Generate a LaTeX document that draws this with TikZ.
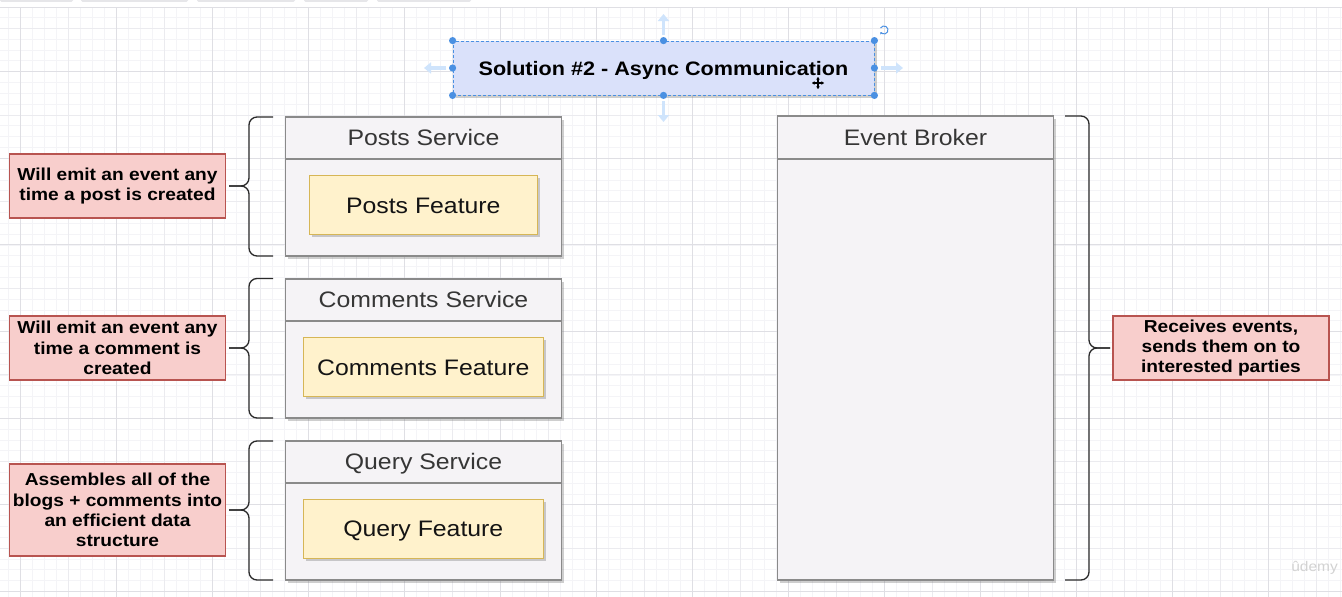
\documentclass[tikz,border=0pt]{standalone}
\usepackage{fontspec}
\setmainfont{Liberation Sans}[FakeStretch=1.108]
\usetikzlibrary{arrows.meta,shadows}
\definecolor{svcfill}{HTML}{F5F3F6}
\definecolor{svcline}{HTML}{8A8A8A}
\definecolor{hdrgray}{HTML}{363636}
\definecolor{featfill}{HTML}{FFF2CC}
\definecolor{featline}{HTML}{D6B656}
\definecolor{notefill}{HTML}{F8CECC}
\definecolor{noteline}{HTML}{B85450}
\definecolor{titlefill}{HTML}{DAE1FA}
\definecolor{selblue}{HTML}{4A90E2}
\definecolor{hintblue}{HTML}{CFE4FC}
\definecolor{gridminor}{HTML}{F4F4F7}
\definecolor{gridmid}{HTML}{EBEBEF}
\definecolor{gridmajor}{HTML}{DFDFE4}
\definecolor{braceblack}{HTML}{2A2A2A}
\definecolor{tabgray}{HTML}{E6E6E9}
\newcommand\drawBraceL[3]{% top, bottom, tip
  \draw[bracestyle] (273,#1) -- (249,#1) -- (249,#3) -- (229,#3);
  \draw[bracestyle] (229,#3) -- (249,#3) -- (249,#2) -- (273,#2);}
\begin{document}
\begin{tikzpicture}[x=1pt,y=-1pt,
  shad/.style={drop shadow={shadow xshift=2.5pt,shadow yshift=-2.5pt,fill=black!55,opacity=0.35}},
  svc/.style={draw=svcline,fill=svcfill,line width=1.1pt,inner sep=0pt,shad},
  feat/.style={draw=featline,fill=featfill,line width=1.1pt,inner sep=0pt,shad,
    text height=16pt,text depth=0pt,font=\fontsize{22.4}{26}\selectfont,text=black!92},
  hdr/.style={font=\fontsize{22.4}{26}\selectfont,text=hdrgray,inner sep=0pt},
  note/.style={draw=noteline,fill=notefill,line width=1.1pt,inner sep=0pt,align=center,
    font=\fontsize{17.3}{20.3}\selectfont\bfseries,text=black},
  titlebox/.style={fill=titlefill,draw=selblue,line width=0.8pt,dash pattern=on 3pt off 2pt,
    inner sep=0pt,shad,text height=14pt,text depth=0pt,font=\fontsize{19.5}{23}\selectfont\bfseries,text=black},
  bracestyle/.style={draw=braceblack,line width=1.3pt,rounded corners=8pt},
  handle/.style={fill=selblue,draw=none},
  hint/.style={draw=hintblue,line width=3.5pt,-{Triangle[length=7pt,width=11pt]}}]
\useasboundingbox (0,0) rectangle (1342,597);
\fill[white] (0,0) rectangle (1342,597);
% grid
\foreach \i in {0,...,111} \draw[gridminor,line width=0.8pt] (8.3+12*\i,7.5) -- (8.3+12*\i,597);
\foreach \k in {1,...,54} \draw[gridminor,line width=0.8pt] (0,6.7+10.83*\k) -- (1342,6.7+10.83*\k);
\foreach \i in {0,...,13} \draw[gridmid,line width=0.9pt] (68.3+96*\i,7.5) -- (68.3+96*\i,597);
\foreach \k in {0,...,6} \draw[gridmid,line width=0.9pt] (0,28.4+86.6*\k) -- (1342,28.4+86.6*\k);
\foreach \i in {0,...,13} \draw[gridmajor,line width=1pt] (20.3+96*\i,7.5) -- (20.3+96*\i,597);
\foreach \k in {0,...,6} \draw[gridmajor,line width=1pt] (0,71.7+86.6*\k) -- (1342,71.7+86.6*\k);
% toolbar strip
\fill[white] (0,0) rectangle (1342,7);
\draw[gridmajor,line width=1pt] (0,7) -- (1342,7);
\foreach \a/\b in {0/73,81/188,197/295,304/368,377/471}
  \fill[tabgray,rounded corners=1.5pt] (\a,-3) rectangle (\b,1.8);
% title
\node[titlebox,minimum width=421pt,minimum height=54pt] (title) at (663.5,68) {Solution \#2 - Async Communication};
\foreach \p in {north west,north,north east,west,east,south west,south,south east}
  \fill[handle] (title.\p) circle (3.6pt);
\draw[hint] (663.5,35) -- (663.5,14);
\draw[hint] (663.5,101) -- (663.5,122);
\draw[hint] (446,68) -- (424,68);
\draw[hint] (881,68) -- (903,68);
\draw[selblue,line width=1pt,-{Stealth[length=2.2pt,width=3pt]}] (884,30) ++(-150:4) arc[start angle=-150,end angle=150,radius=4];
\draw[black,line width=1.1pt,{Stealth[length=2.5pt,width=3.5pt]}-{Stealth[length=2.5pt,width=3.5pt]}] (812,83) -- (824,83);
\draw[black,line width=1.1pt,{Stealth[length=2.5pt,width=3.5pt]}-{Stealth[length=2.5pt,width=3.5pt]}] (818,77) -- (818,89);
% services
\node[svc,minimum width=276pt,minimum height=139pt] (posts) at (423.5,186.5) {};
\draw[svcline,line width=1.1pt] (posts.west |- 0,159) -- (posts.east |- 0,159);
\node[hdr,anchor=base] (postsT) at (423.5,145.5) {Posts Service};
\node[feat,minimum width=228pt,minimum height=59pt] (postsF) at (423.3,205.2) {Posts Feature};

\node[svc,minimum width=276pt,minimum height=139pt] (comments) at (423.5,348.5) {};
\draw[svcline,line width=1.1pt] (comments.west |- 0,321) -- (comments.east |- 0,321);
\node[hdr,anchor=base] (commentsT) at (423.5,307.3) {Comments Service};
\node[feat,minimum width=239.5pt,minimum height=59pt] (commentsF) at (423.3,367.2) {Comments Feature};

\node[svc,minimum width=276pt,minimum height=139pt] (query) at (423.5,510.5) {};
\draw[svcline,line width=1.1pt] (query.west |- 0,483) -- (query.east |- 0,483);
\node[hdr,anchor=base] (queryT) at (423.5,469.3) {Query Service};
\node[feat,minimum width=239.5pt,minimum height=59pt] (queryF) at (423.3,528.8) {Query Feature};

\node[svc,minimum width=276pt,minimum height=464pt] (broker) at (915.5,348) {};
\draw[svcline,line width=1.1pt] (broker.west |- 0,159) -- (broker.east |- 0,159);
\node[hdr,anchor=base] (brokerT) at (915.5,145.3) {Event Broker};
% notes
\node[note,minimum width=216pt,minimum height=64pt] (n1) at (117.5,186) {Will emit an event any\\time a post is created};
\node[note,minimum width=216pt,minimum height=64pt] (n2) at (117.5,348) {Will emit an event any\\time a comment is\\created};
\node[note,minimum width=216pt,minimum height=92pt] (n3) at (117.5,510) {Assembles all of the\\blogs + comments into\\an efficient data\\structure};
\node[note,minimum width=216pt,minimum height=64pt] (n4) at (1221,348) {Receives events,\\sends them on to\\interested parties};
% braces
\drawBraceL{117}{256}{186}
\drawBraceL{278.5}{418}{348}
\drawBraceL{441}{580}{510}
\draw[bracestyle] (1065,116) -- (1089,116) -- (1089,348) -- (1110,348);
\draw[bracestyle] (1110,348) -- (1089,348) -- (1089,580) -- (1065,580);
% watermark
\node[anchor=base east,inner sep=0pt,text=gray!35,font=\fontsize{14}{17}\selectfont] (wm) at (1338,571) {ûdemy};
\end{tikzpicture}
\end{document}
